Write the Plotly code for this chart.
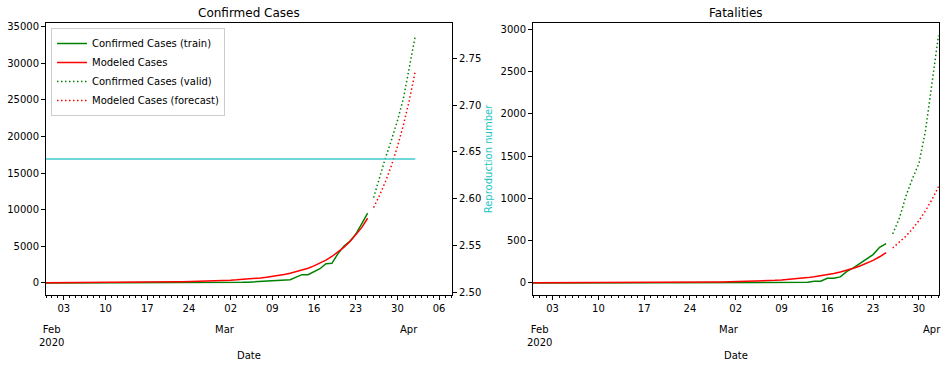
import pandas as pd
import plotly.graph_objects as go

# ---------------- data ----------------
train_dates = pd.date_range("2020-01-31", "2020-03-25", freq="D")
valid_dates = pd.date_range("2020-03-26", "2020-04-02", freq="D")

cases_train = [2, 2, 2, 2, 2, 2, 2, 3, 3, 3, 8, 8, 9, 9, 9, 9, 9, 9, 9, 9, 9, 9, 9, 9,
               13, 13, 13, 15, 20, 23,
               36, 40, 51, 85, 115, 163, 206, 273, 321, 382, 456, 456, 798, 1140, 1140,
               1543, 1950, 2626, 2689, 3983, 5018, 5683, 6650, 8077, 9529]
cases_model = [38, 40, 43, 46, 49, 52, 55, 59, 63, 66, 69, 74, 80, 86, 92, 99, 106, 113,
               122, 132, 143, 155, 168, 183, 198, 218, 240, 264, 290, 318,
               344, 384, 428, 478, 534, 604, 690, 785, 895, 1025, 1170, 1340, 1535, 1760,
               2010, 2330, 2700, 3130, 3620, 4200, 4860, 5630, 6520, 7560, 8840]
cases_valid = [11658, 14543, 17089, 19522, 22141, 25150, 29474, 33718]
cases_forecast = [10300, 11950, 13850, 16050, 18600, 21550, 24950, 28900]

fat_train = [0] * 34 + [1, 2, 2, 3, 4, 6, 8, 8, 8, 21, 21, 56, 56, 72, 138, 178, 234,
                        282, 336, 423, 466]
fat_model = [1.9, 2.0, 2.1, 2.2, 2.3, 2.4, 2.6, 2.7, 2.9, 3.1, 3.3, 3.5, 3.7, 3.9, 4.2,
             4.5, 4.8, 5.1, 5.5, 5.9, 6.3, 6.8, 7.3, 7.9, 8.5, 9.2, 10.0, 10.9, 11.9, 13.0,
             14.3, 15.8, 17.4, 19.4, 21.8, 24.6, 27.8, 31.5, 36, 41.5, 48, 55, 63.5, 73,
             84, 97, 112, 130, 150, 174, 201, 232, 268, 310, 358]
fat_valid = [580, 761, 1021, 1231, 1411, 1793, 2357, 2926]
fat_forecast = [414, 478, 552, 638, 737, 852, 985, 1139]

r_dates = ["2020-01-31", "2020-04-02"]
r_values = [2.6424, 2.6424]

week_ticks = list(pd.date_range("2020-02-03", "2020-04-06", freq="7D"))
week_labels = [d.strftime("%d") for d in week_ticks]
month_ticks = ["2020-02-01", "2020-03-01", "2020-04-01"]
month_labels = ["Feb<br>2020", "Mar", "Apr"]
cases_ticks = [0, 5000, 10000, 15000, 20000, 25000, 30000, 35000]
fat_ticks = [0, 500, 1000, 1500, 2000, 2500, 3000]
r_ticks = [2.50, 2.55, 2.60, 2.65, 2.70, 2.75]

# ---------------- styling ----------------
GREEN = "#008000"
RED = "#ff0000"
CYAN = "#3fcccc"
CYAN_TXT = "#22c4c4"
FONT = "DejaVu Sans"
DOT = "1.5px,2.5px"

W, H = 949, 368
ML, MR, MT, MB = 46, 10, 23, 73
PW = W - ML - MR
PH = H - MT - MB
dom1 = [0, (452 - ML) / PW]
dom2 = [(533 - ML) / PW, 1.0]

fig = go.Figure()

# left: cases
fig.add_trace(go.Scatter(x=train_dates, y=cases_train, mode="lines", name="Confirmed Cases (train)",
                         line=dict(color=GREEN, width=1.5), xaxis="x", yaxis="y"))
fig.add_trace(go.Scatter(x=train_dates, y=cases_model, mode="lines", name="Modeled Cases",
                         line=dict(color=RED, width=1.5), xaxis="x", yaxis="y"))
fig.add_trace(go.Scatter(x=valid_dates, y=cases_valid, mode="lines", name="Confirmed Cases (valid)",
                         line=dict(color=GREEN, width=1.5, dash=DOT), xaxis="x", yaxis="y"))
fig.add_trace(go.Scatter(x=valid_dates, y=cases_forecast, mode="lines", name="Modeled Cases (forecast)",
                         line=dict(color=RED, width=1.5, dash=DOT), xaxis="x", yaxis="y"))
fig.add_trace(go.Scatter(x=r_dates, y=r_values, mode="lines", showlegend=False,
                         line=dict(color=CYAN, width=1.5), xaxis="x", yaxis="y2"))

# right: fatalities
fig.add_trace(go.Scatter(x=train_dates, y=fat_train, mode="lines", showlegend=False,
                         line=dict(color=GREEN, width=1.5), xaxis="x2", yaxis="y3"))
fig.add_trace(go.Scatter(x=train_dates, y=fat_model, mode="lines", showlegend=False,
                         line=dict(color=RED, width=1.5), xaxis="x2", yaxis="y3"))
fig.add_trace(go.Scatter(x=valid_dates, y=fat_valid, mode="lines", showlegend=False,
                         line=dict(color=GREEN, width=1.5, dash=DOT), xaxis="x2", yaxis="y3"))
fig.add_trace(go.Scatter(x=valid_dates, y=fat_forecast, mode="lines", showlegend=False,
                         line=dict(color=RED, width=1.5, dash=DOT), xaxis="x2", yaxis="y3"))

tickfont = dict(family=FONT, size=10, color="black")
minor = dict(ticks="outside", ticklen=2, tickcolor="black", tickwidth=1,
             tickmode="linear", tick0="2020-01-31", dtick=86400000, showgrid=False)

xcommon = dict(type="date", showgrid=False, zeroline=False, showline=True, linecolor="black",
               linewidth=1, mirror=True, ticks="outside", ticklen=4, tickwidth=1, tickcolor="black",
               tickmode="array", tickvals=week_ticks, ticktext=week_labels, tickfont=tickfont,
               minor=minor, automargin=False)
ycommon = dict(showgrid=False, zeroline=False, showline=True, linecolor="black", linewidth=1,
               ticks="outside", ticklen=4, tickwidth=1, tickcolor="black", tickfont=tickfont,
               tickmode="array", automargin=False)

fig.update_layout(
    width=W, height=H,
    margin=dict(l=ML, r=MR, t=MT, b=MB, autoexpand=False),
    paper_bgcolor="white", plot_bgcolor="white",
    font=dict(family=FONT, size=10, color="black"),
    xaxis=dict(xcommon, domain=dom1, anchor="y",
               range=["2020-01-31 00:00", "2020-04-08 04:00"]),
    yaxis=dict(ycommon, domain=[0, 1], anchor="x", mirror=True,
               range=[-1640, 35500], tickvals=cases_ticks, tickformat="d"),
    yaxis2=dict(ycommon, overlaying="y", side="right", anchor="x",
                range=[2.4971, 2.7877], tickvals=r_ticks, tickformat=".2f",
                title=dict(text="Reproduction number", font=dict(family=FONT, size=10, color=CYAN_TXT),
                           standoff=4)),
    xaxis2=dict(xcommon, domain=dom2, anchor="y3",
                range=["2020-01-31 00:00", "2020-04-02 02:00"]),
    yaxis3=dict(ycommon, domain=[0, 1], anchor="x2", mirror=True,
                range=[-142, 3075], tickvals=fat_ticks, tickformat="d"),
    legend=dict(x=(51 - ML) / PW, y=1 - 5 / PH, xanchor="left", yanchor="top",
                bgcolor="rgba(255,255,255,0.8)", bordercolor="#cccccc", borderwidth=1,
                font=dict(family=FONT, size=10, color="black"), tracegroupgap=0,
                itemwidth=30),
    showlegend=True,
)

annots = []
# titles
annots.append(dict(text="Confirmed Cases", xref="paper", yref="paper", x=sum(dom1) / 2, y=1,
                   xanchor="center", yanchor="bottom", yshift=1, showarrow=False,
                   font=dict(family=FONT, size=12, color="black")))
annots.append(dict(text="Fatalities", xref="paper", yref="paper", x=sum(dom2) / 2, y=1,
                   xanchor="center", yanchor="bottom", yshift=1, showarrow=False,
                   font=dict(family=FONT, size=12, color="black")))
# month labels and axis titles
for xr, dom in (("x", dom1), ("x2", dom2)):
    for mt, ml in zip(month_ticks, month_labels):
        annots.append(dict(text=ml, xref=xr, yref="paper", x=mt, y=0, xanchor="center",
                           yanchor="top", yshift=-27, showarrow=False,
                           font=dict(family=FONT, size=10, color="black")))
    annots.append(dict(text="Date", xref="paper", yref="paper", x=sum(dom) / 2, y=0,
                       xanchor="center", yanchor="middle", yshift=-60, showarrow=False,
                       font=dict(family=FONT, size=10, color="black")))
fig.update_layout(annotations=annots)

fig.write_html("out.html", config={"displayModeBar": False},
               post_script="document.body.style.margin='0';document.body.style.padding='0';")
